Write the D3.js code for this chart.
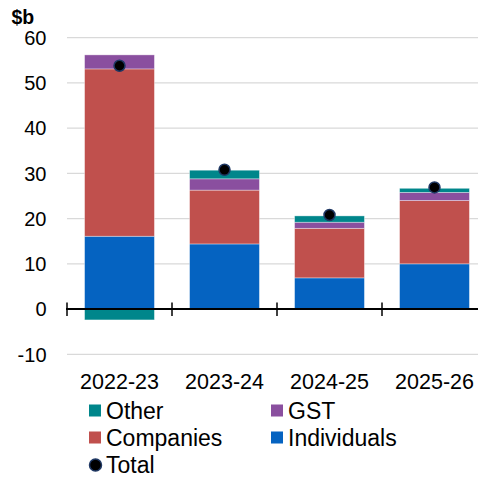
<!DOCTYPE html>
<html><head><meta charset="utf-8">
<script src="https://cdn.jsdelivr.net/npm/d3@7"></script>
<style>body{margin:0;background:#fff}svg{display:block;font-family:"Liberation Sans",Arial,sans-serif}</style>
</head><body><svg id="c" width="478" height="479"></svg>
<script>
const categories = ["2022-23","2023-24","2024-25","2025-26"];
const individuals = [16.1, 14.4, 6.9, 10.0];
const companies = [37.0, 11.9, 10.95, 14.0];
const gst = [3.1, 2.5, 1.35, 1.8];
const other = [-2.4, 1.9, 1.4, 0.9];
const total = [53.8, 30.8, 20.8, 26.9];
const yTicks = [-10, 0, 10, 20, 30, 40, 50, 60];

const svg = d3.select("#c");
const x = d3.scaleBand().domain(categories).range([67, 487]).paddingInner(0.335).paddingOuter(0.1675);
const y = d3.scaleLinear().domain([-10, 60]).range([354.3, 37.7]);

// gridlines
svg.append("g").selectAll("line").data(yTicks.filter(d => d !== 0)).join("line")
  .attr("x1", 67).attr("x2", 478).attr("y1", d => y(d)).attr("y2", d => y(d))
  .attr("stroke", "#d9d9d9").attr("stroke-width", 1.3);

// y tick labels
svg.append("g").selectAll("text").data(yTicks).join("text")
  .attr("x", 46.5).attr("y", d => y(d) + 7.2).attr("text-anchor", "end")
  .attr("font-size", 20).attr("fill", "#000").text(d => d);

svg.append("text").attr("x", 11.5).attr("y", 23.5).attr("font-size", 19.5).attr("font-weight", "bold").text("$b");

// stacked bars
const series = [
  {name: "Individuals", vals: individuals, color: "#0563c1"},
  {name: "Companies", vals: companies, color: "#c0504d"},
  {name: "GST", vals: gst, color: "#8a4f9f"},
  {name: "Other", vals: other, color: "#00868b"}
];
const bars = svg.append("g");
categories.forEach((c, i) => {
  let pos = 0, neg = 0;
  series.forEach(s => {
    const v = s.vals[i];
    let y0, y1;
    if (v >= 0) { y0 = pos; y1 = pos + v; pos = y1; } else { y0 = neg + v; y1 = neg; neg = y0; }
    bars.append("rect").attr("x", x(c)).attr("width", x.bandwidth())
      .attr("y", y(y1)).attr("height", y(y0) - y(y1))
      .attr("fill", s.color).attr("stroke", "rgba(255,255,255,0.45)").attr("stroke-width", 0.8);
  });
});

// zero axis
svg.append("line").attr("x1", 66).attr("x2", 478).attr("y1", y(0)).attr("y2", y(0))
  .attr("stroke", "#000").attr("stroke-width", 2);
const bounds = categories.map(c => x(c) - x.step() * x.paddingInner() / 2);
bounds[0] = 67;
svg.append("g").selectAll("line").data(bounds).join("line")
  .attr("x1", d => d).attr("x2", d => d).attr("y1", y(0) - 6.5).attr("y2", y(0) + 7)
  .attr("stroke", "#000").attr("stroke-width", 1.5);

// x labels
svg.append("g").selectAll("text").data(categories).join("text")
  .attr("x", d => x(d) + x.bandwidth() / 2).attr("y", 389).attr("text-anchor", "middle")
  .attr("font-size", 21.5).text(d => d);

// total dots
svg.append("g").selectAll("circle").data(total).join("circle")
  .attr("cx", (d, i) => x(categories[i]) + x.bandwidth() / 2).attr("cy", d => y(d))
  .attr("r", 5.5).attr("fill", "#000").attr("stroke", "#1f3864").attr("stroke-width", 1.5);

// legend
const legend = [
  {name: "Other", color: "#00868b", lx: 89, ly: 410.5},
  {name: "GST", color: "#8a4f9f", lx: 271, ly: 410.5},
  {name: "Companies", color: "#c0504d", lx: 89, ly: 437.5},
  {name: "Individuals", color: "#0563c1", lx: 271, ly: 437.5}
];
const lg = svg.append("g");
legend.forEach(l => {
  lg.append("rect").attr("x", l.lx).attr("y", l.ly - 6).attr("width", 12).attr("height", 12).attr("fill", l.color);
  lg.append("text").attr("x", l.lx + 17).attr("y", l.ly + 8.5).attr("font-size", 23).text(l.name);
});
lg.append("circle").attr("cx", 95.5).attr("cy", 465).attr("r", 6).attr("fill", "#000").attr("stroke", "#1f3864").attr("stroke-width", 1.5);
lg.append("text").attr("x", 106).attr("y", 472.5).attr("font-size", 23).text("Total");
</script></body></html>
